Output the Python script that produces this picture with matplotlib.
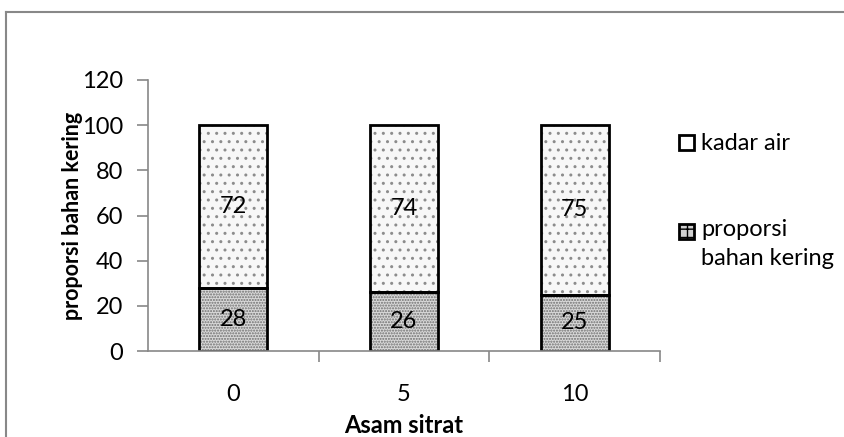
import matplotlib
matplotlib.use("Agg")
import matplotlib.pyplot as plt
from matplotlib.lines import Line2D
from matplotlib.patches import Rectangle

categories = ["0", "5", "10"]
proporsi_bahan_kering = [28, 26, 25]
kadar_air = [72, 74, 75]
y_ticks = [0, 20, 40, 60, 80, 100, 120]
legend_labels = ["kadar air", "proporsi\nbahan kering"]

plt.rcParams['font.family'] = ['Lato', 'DejaVu Sans']

W, H = 845, 437
fig = plt.figure(figsize=(W/100, H/100), dpi=100)
ax = fig.add_axes([148/W, 1-351/H, (660-148)/W, (351-80)/H])

x = list(range(len(categories)))
w = 0.40
# hatched fills
ax.bar(x, proporsi_bahan_kering, width=w, color='#d9d9d9', edgecolor='#6f6f6f', hatch='......', linewidth=0)
ax.bar(x, kadar_air, bottom=proporsi_bahan_kering, width=w, color='#f7f7f7', edgecolor='#8c8c8c', hatch='..', linewidth=0)
# outlines
ax.bar(x, proporsi_bahan_kering, width=w, fill=False, edgecolor='black', linewidth=2)
ax.bar(x, kadar_air, bottom=proporsi_bahan_kering, width=w, fill=False, edgecolor='black', linewidth=2)

for i in x:
    ax.text(i, proporsi_bahan_kering[i]/2, str(proporsi_bahan_kering[i]), ha='center', va='center', fontsize=17)
    ax.text(i, proporsi_bahan_kering[i] + kadar_air[i]/2, str(kadar_air[i]), ha='center', va='center', fontsize=17)

ax.set_xlim(-0.5, 2.5)
ax.set_ylim(0, 120)
ax.set_yticks(y_ticks)
ax.set_yticklabels([str(t) for t in y_ticks], fontsize=17)
ax.set_xticks([0.5, 1.5, 2.5], minor=False)
ax.set_xticklabels([])
ax.set_xticks(x, minor=True)
ax.set_xticklabels(categories, minor=True, fontsize=17)
ax.tick_params(axis='x', which='minor', length=0, pad=24)
ax.tick_params(axis='x', which='major', length=8, color='#888888', width=1.2)
ax.tick_params(axis='y', length=8, color='#888888', width=1.2, pad=10)

for s in ['top', 'right']:
    ax.spines[s].set_visible(False)
for s in ['left', 'bottom']:
    ax.spines[s].set_color('#888888')
    ax.spines[s].set_linewidth(1.2)

ax.set_ylabel('proporsi bahan kering', fontsize=15.5, fontweight='bold')
ax.yaxis.set_label_coords((83-148)/512, 0.5)
ax.set_xlabel('Asam sitrat', fontsize=17, fontweight='bold', labelpad=6)

# legend drawn manually (handle aligned with first text line)
def px(xp, yp):
    return xp/W, 1-yp/H

r1 = Rectangle(px(679, 150), 15/W, 15/H, transform=fig.transFigure, facecolor='white',
               edgecolor='black', linewidth=2)
r2 = Rectangle(px(679, 239), 15/W, 15/H, transform=fig.transFigure, facecolor='#d0d0d0',
               edgecolor='black', linewidth=2, hatch='++')
fig.add_artist(r1)
fig.add_artist(r2)
fig.text(*px(701, 143), legend_labels[0], fontsize=17, va='center', ha='left')
fig.text(*px(701, 219), legend_labels[1], fontsize=17, va='top', ha='left', linespacing=1.45)

# outer border
fig.add_artist(Line2D([6/W, 6/W], [0, 1-12/H], transform=fig.transFigure, color='#888888', linewidth=1.5))
fig.add_artist(Line2D([6/W, 1], [1-12/H, 1-12/H], transform=fig.transFigure, color='#888888', linewidth=1.5))

fig.savefig('out.png', dpi=100)
